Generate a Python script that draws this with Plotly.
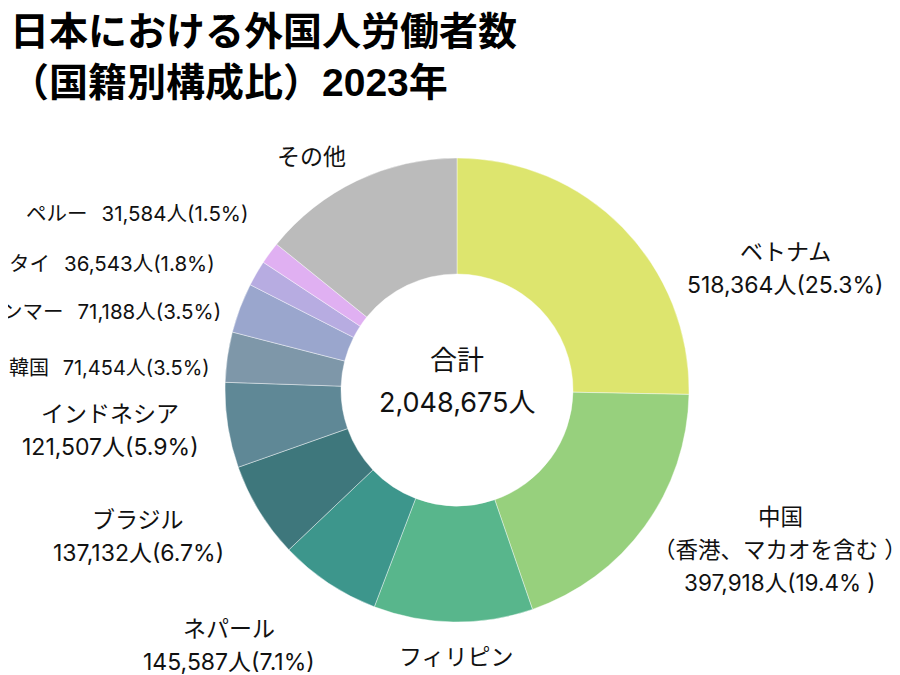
import plotly.graph_objects as go

# the page puts the figure 8px in from the top-left corner
PAD = 8
W, H = 900 - PAD, 675 - PAD

# data (2023, foreign workers in Japan by nationality)
countries = ["ベトナム", "中国", "フィリピン", "ネパール", "ブラジル", "インドネシア",
             "韓国", "ミャンマー", "タイ", "ペルー", "その他"]
workers = [518364, 397918, 226846, 145587, 137132, 121507,
           71454, 71188, 36543, 31584, 290552]
total = 2048675

colors = ["#dde56e", "#97d07d", "#58b68c", "#3d968c", "#3e777c", "#5f8896",
          "#7e97a9", "#9aa6cd", "#b7ace1", "#e0b0f2", "#bbbbbb"]

FONT = "Inter, 'Noto Sans CJK JP', sans-serif"
GAP = "\u2002\u2009"


def px(x):
    return (x - PAD) / W


def py(y):
    return 1 - (y - PAD) / H


def pct(v):
    return f"{v / total * 100:.1f}%"


def num_line(v):
    return f"{v:,}人({pct(v)})"


# label text per slice (lines)
label_lines = {
    "ベトナム": ["ベトナム", num_line(workers[0])],
    "中国": ["中国", "（香港、マカオを含む ）", f"{workers[1]:,}人({pct(workers[1])} )"],
    "フィリピン": ["フィリピン"],
    "ネパール": ["ネパール", num_line(workers[3])],
    "ブラジル": ["ブラジル", num_line(workers[4])],
    "インドネシア": ["インドネシア", num_line(workers[5])],
    "韓国": ["韓国" + GAP + num_line(workers[6])],
    "ミャンマー": ["ミャンマー" + GAP + num_line(workers[7])],
    "タイ": ["タイ" + GAP + num_line(workers[8])],
    "ペルー": ["ペルー" + GAP + num_line(workers[9])],
    "その他": ["その他"],
}

# label placement in screen pixels: (x, y of first line, anchor, font size)
label_pos = {
    "ベトナム": (785, 252, "center", 23),
    "中国": (780, 516, "center", 22.5),
    "フィリピン": (457, 657, "center", 23),
    "ネパール": (229, 629, "center", 23),
    "ブラジル": (138, 520, "center", 23),
    "インドネシア": (110, 414, "center", 23),
    "韓国": (7, 368, "left", 20),
    "ミャンマー": (223, 312, "right", 20.5),
    "タイ": (7, 263, "left", 20.5),
    "ペルー": (24, 213, "left", 20.5),
    "その他": (311, 157, "center", 23),
}
LINE_GAP = 33

cx, cy, r = 457, 390, 232

fig = go.Figure(go.Pie(
    labels=countries,
    values=workers,
    sort=False,
    direction="clockwise",
    rotation=0,
    hole=0.5,
    marker=dict(colors=colors, line=dict(color="rgba(255,255,255,0.6)", width=0.7)),
    textinfo="none",
    showlegend=False,
    domain=dict(x=[px(cx - r), px(cx + r)],
                y=[py(cy + r), py(cy - r)]),
))

annotations = []
for name in countries:
    x, y0, anchor, size = label_pos[name]
    for i, line in enumerate(label_lines[name]):
        annotations.append(dict(
            x=px(x), y=py(y0 + i * LINE_GAP), xref="paper", yref="paper",
            text=line, showarrow=False, xanchor=anchor, yanchor="middle",
            font=dict(family=FONT, size=size, color="#111111"),
        ))

# centre text
annotations.append(dict(x=px(cx), y=py(360), xref="paper", yref="paper",
                        text="合計", showarrow=False, yanchor="middle",
                        font=dict(family=FONT, size=27, color="#111111")))
annotations.append(dict(x=px(cx), y=py(402), xref="paper", yref="paper",
                        text=f"{total:,}人", showarrow=False, yanchor="middle",
                        font=dict(family=FONT, size=27, color="#111111")))

# title
annotations.append(dict(
    x=px(8), y=py(8), xref="paper", yref="paper",
    text="<b>日本における外国人労働者数<br>（国籍別構成比）2023年</b>",
    showarrow=False, xanchor="left", yanchor="top", align="left",
    font=dict(family="'Liberation Sans', 'Noto Sans CJK JP', sans-serif", size=39, color="#000000"),
))

fig.update_layout(
    width=W, height=H,
    margin=dict(l=0, r=0, t=0, b=0),
    paper_bgcolor="white",
    plot_bgcolor="white",
    annotations=annotations,
)

fig.write_html("out.html")
